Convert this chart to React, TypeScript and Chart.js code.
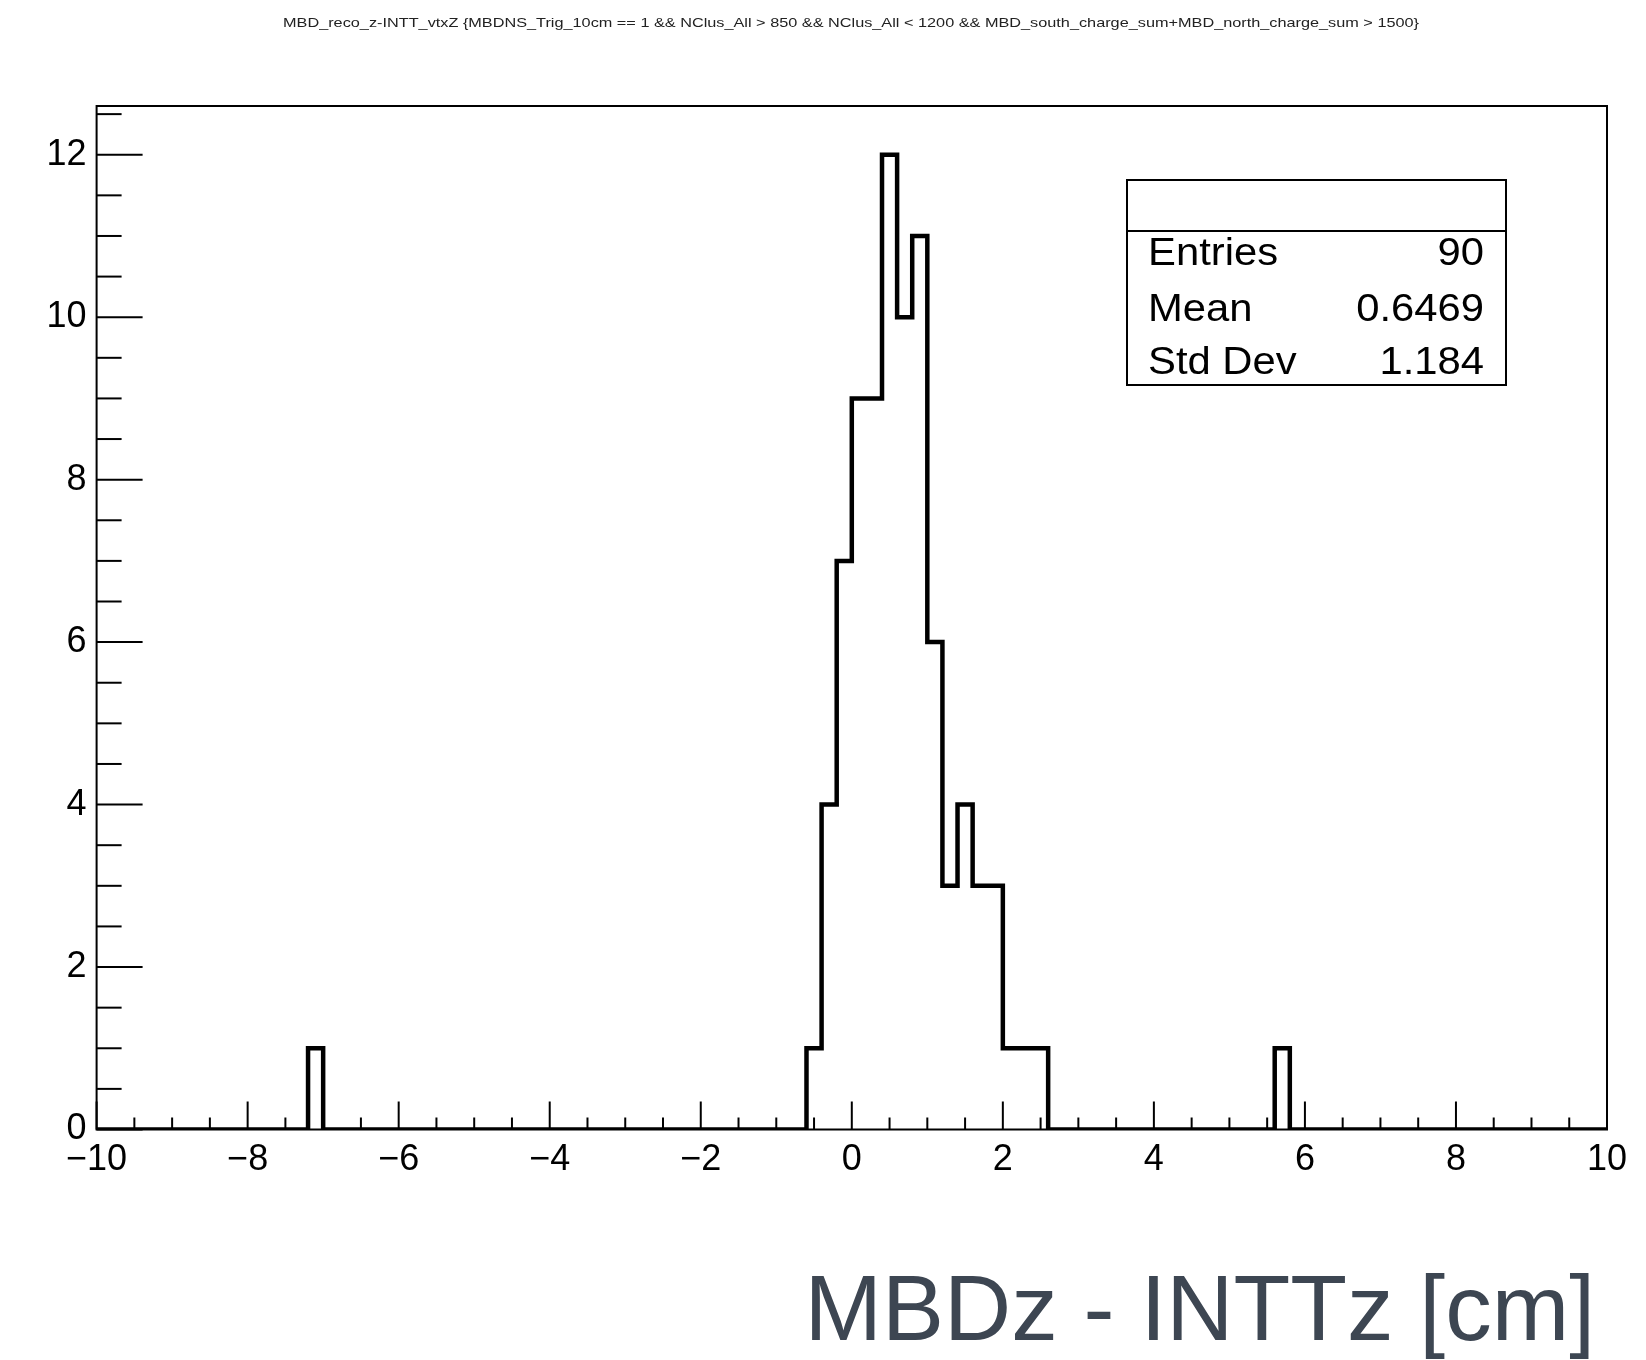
import { useEffect, useRef } from "react";
import { Chart, registerables } from "chart.js";

Chart.register(...registerables);

// Histogram binning: 100 bins of 0.2 cm between -10 and 10
const BIN_WIDTH = 0.2;
const X_MIN = -10;
const X_MAX = 10;
const Y_MIN = 0;
const Y_MAX = 12.6;

// Low edges of the non-empty bins and their entries
const filledBinLowEdges = [-7.2, -0.6, -0.4, -0.2, 0.0, 0.2, 0.4, 0.6, 0.8, 1.0, 1.2, 1.4, 1.6, 1.8, 2.0, 2.2, 2.4, 5.6];
const filledBinCounts = [1, 1, 4, 7, 9, 9, 12, 10, 11, 6, 3, 4, 3, 3, 1, 1, 1, 1];

// Axis labelling
const xTickValues = [-10, -8, -6, -4, -2, 0, 2, 4, 6, 8, 10];
const yTickValues = [0, 2, 4, 6, 8, 10, 12];
const MINOR_STEP = 0.5;

// Statistics box
const statLabels = ["Entries", "Mean", "Std Dev"];
const statValues = ["90", "0.6469", "1.184"];

const histTitle =
  "MBD_reco_z-INTT_vtxZ {MBDNS_Trig_10cm == 1 && NClus_All > 850 && NClus_All < 1200 && MBD_south_charge_sum+MBD_north_charge_sum > 1500}";
const axisTitle = "MBDz - INTTz [cm]";

const FONT = '"Liberation Sans", Arial, Helvetica, sans-serif';

function buildStepPoints() {
  const nBins = Math.round((X_MAX - X_MIN) / BIN_WIDTH);
  const counts: number[] = new Array(nBins).fill(0);
  filledBinLowEdges.forEach((lo, i) => {
    counts[Math.round((lo - X_MIN) / BIN_WIDTH)] = filledBinCounts[i];
  });
  // each point opens a bin; the step holds its count until the next edge
  const pts = counts.map((c, i) => ({ x: X_MIN + i * BIN_WIDTH, y: c }));
  pts.push({ x: X_MAX, y: counts[nBins - 1] });
  return pts;
}

function fmtTick(v: number) {
  return v < 0 ? "\u2212" + Math.abs(v) : String(v);
}

// text drawn with a horizontal stretch, anchored at (x, y)
function stretchedText(ctx: CanvasRenderingContext2D, text: string, x: number, y: number, sx: number, align: "left" | "right") {
  ctx.save();
  ctx.translate(x, y);
  ctx.scale(sx, 1);
  ctx.textAlign = align;
  ctx.fillText(text, 0, 0);
  ctx.restore();
}

// Frame, inward ticks, title, statistics box and axis title
const rootDecorations = {
  id: "rootDecorations",
  afterDraw(chart: any) {
    const { ctx, chartArea: a, scales } = chart;
    const xs = scales.x;
    const ys = scales.y;
    ctx.save();
    ctx.strokeStyle = "#000";

    // frame
    ctx.lineWidth = 2;
    ctx.strokeRect(a.left, a.top, a.right - a.left, a.bottom - a.top);

    // x ticks pointing up into the frame
    ctx.lineWidth = 2;
    const nx = Math.round((X_MAX - X_MIN) / MINOR_STEP);
    for (let i = 0; i <= nx; i++) {
      const v = X_MIN + i * MINOR_STEP;
      const px = xs.getPixelForValue(v);
      const major = xTickValues.some((t) => Math.abs(t - v) < 1e-6);
      const len = major ? 28 : 12;
      ctx.beginPath();
      ctx.moveTo(px, a.bottom);
      ctx.lineTo(px, a.bottom - len);
      ctx.stroke();
    }
    // y ticks pointing right into the frame
    const ny = Math.floor((Y_MAX - Y_MIN) / MINOR_STEP + 1e-6);
    for (let i = 0; i <= ny; i++) {
      const v = Y_MIN + i * MINOR_STEP;
      const py = ys.getPixelForValue(v);
      const major = yTickValues.some((t) => Math.abs(t - v) < 1e-6);
      const len = major ? 46 : 25;
      ctx.beginPath();
      ctx.moveTo(a.left, py);
      ctx.lineTo(a.left + len, py);
      ctx.stroke();
    }

    // histogram title, stretched to its line width
    ctx.fillStyle = "#222";
    ctx.font = `13px ${FONT}`;
    ctx.textBaseline = "alphabetic";
    const tw = ctx.measureText(histTitle).width;
    stretchedText(ctx, histTitle, 283, 27, 1136 / tw, "left");

    // statistics box
    const bx = 1127, by = 180, bw = 379, bh = 205, divY = 231;
    ctx.fillStyle = "#fff";
    ctx.fillRect(bx, by, bw, bh);
    ctx.lineWidth = 2;
    ctx.strokeRect(bx, by, bw, bh);
    ctx.beginPath();
    ctx.moveTo(bx, divY);
    ctx.lineTo(bx + bw, divY);
    ctx.stroke();
    ctx.fillStyle = "#000";
    ctx.font = `38px ${FONT}`;
    const baselines = [265, 321, 374];
    statLabels.forEach((lab, i) => {
      stretchedText(ctx, lab, 1148, baselines[i], 1.1, "left");
      stretchedText(ctx, statValues[i], 1484, baselines[i], 1.1, "right");
    });

    // x axis title
    ctx.fillStyle = "#3d4652";
    ctx.font = `93px ${FONT}`;
    ctx.textAlign = "right";
    ctx.fillText(axisTitle, 1595, 1340);

    ctx.restore();
  },
};

export default function App() {
  const canvasRef = useRef<HTMLCanvasElement | null>(null);

  useEffect(() => {
    const canvas = canvasRef.current;
    if (!canvas) return;
    const chart = new Chart(canvas, {
      type: "line",
      data: {
        datasets: [
          {
            data: buildStepPoints(),
            stepped: "before",
            borderColor: "#000",
            borderWidth: 4.5,
            pointRadius: 0,
            fill: false,
            tension: 0,
          },
        ],
      },
      options: {
        responsive: false,
        animation: false,
        devicePixelRatio: 1,
        layout: { padding: { left: 0, top: 106, right: 39, bottom: 0 } },
        plugins: {
          legend: { display: false },
          title: { display: false },
          tooltip: { enabled: false },
        },
        scales: {
          x: {
            type: "linear",
            min: X_MIN,
            max: X_MAX,
            grid: { display: false, drawTicks: false },
            border: { display: false },
            afterBuildTicks: (scale: any) => {
              scale.ticks = xTickValues.map((v) => ({ value: v }));
            },
            afterFit: (scale: any) => {
              scale.height = 230.5;
            },
            ticks: {
              autoSkip: false,
              maxRotation: 0,
              minRotation: 0,
              padding: 13,
              color: "#000",
              font: { family: FONT, size: 36, lineHeight: 1 },
              callback: (v: any) => fmtTick(Number(v)),
            },
          },
          y: {
            type: "linear",
            min: Y_MIN,
            max: Y_MAX,
            grid: { display: false, drawTicks: false },
            border: { display: false },
            afterBuildTicks: (scale: any) => {
              scale.ticks = yTickValues.map((v) => ({ value: v }));
            },
            afterFit: (scale: any) => {
              scale.width = 96.6;
            },
            ticks: {
              autoSkip: false,
              padding: 10,
              color: "#000",
              font: { family: FONT, size: 36, lineHeight: 1 },
              callback: (v: any) => fmtTick(Number(v)),
            },
          },
        },
      },
      plugins: [rootDecorations],
    } as any);
    return () => chart.destroy();
  }, []);

  return (
    <div style={{ position: "absolute", left: 0, top: 0, width: 1646, height: 1360, background: "#fff" }}>
      <canvas ref={canvasRef} width={1646} height={1360} />
    </div>
  );
}
